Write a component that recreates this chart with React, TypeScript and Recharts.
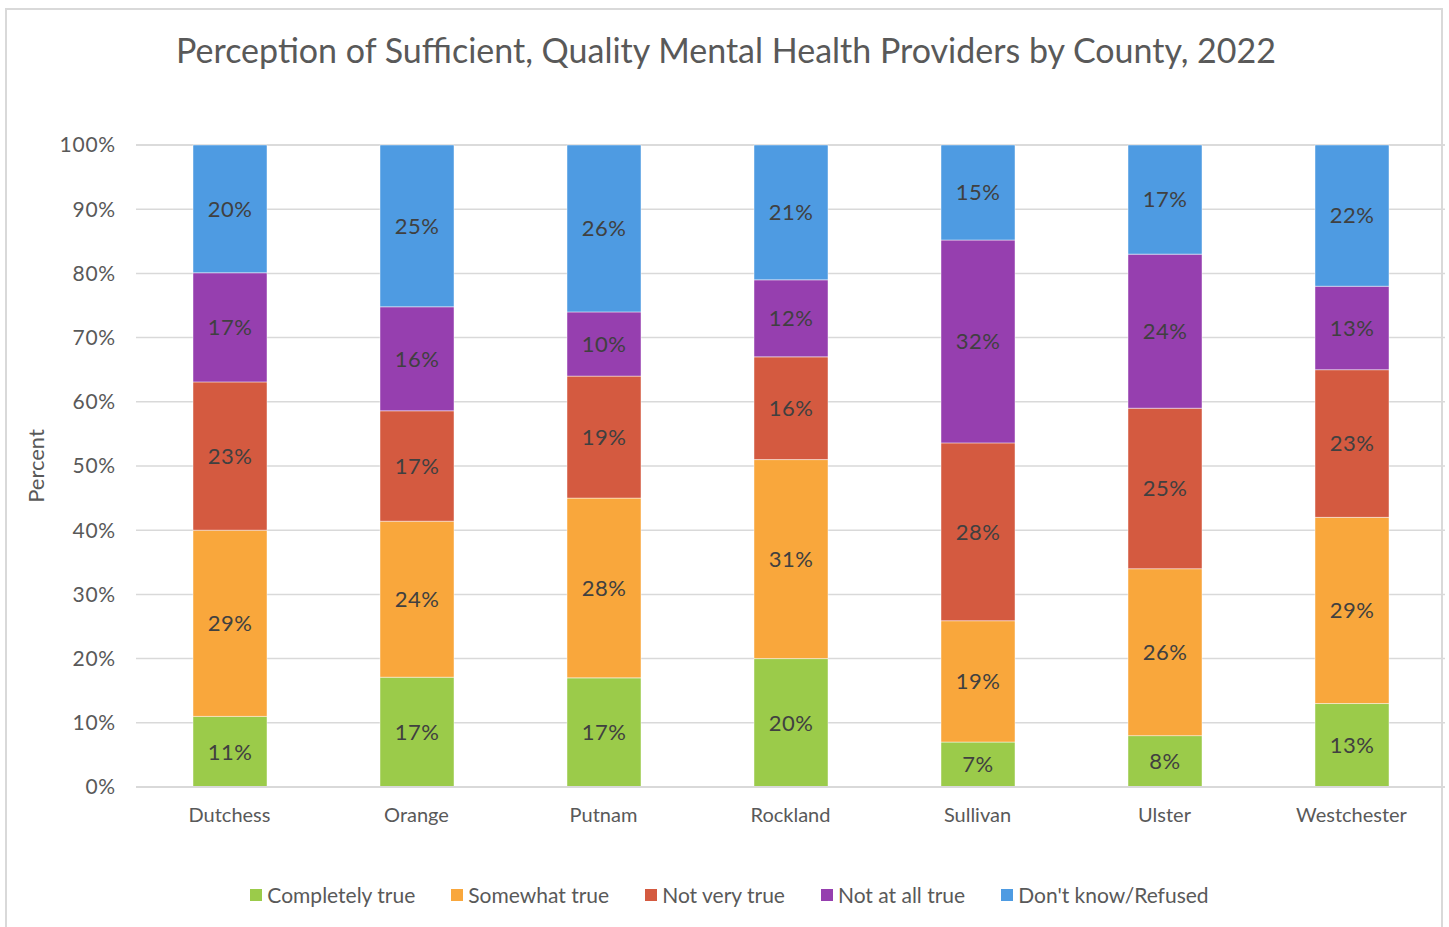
import React from 'react';
import { BarChart, Bar, XAxis, YAxis, CartesianGrid, Legend, LabelList } from 'recharts';

const counties = ['Dutchess', 'Orange', 'Putnam', 'Rockland', 'Sullivan', 'Ulster', 'Westchester'];
const completelyTrue = [11, 17.1, 17, 20, 7, 8, 13];
const somewhatTrue = [29, 24.3, 28, 31, 18.9, 26, 29];
const notVeryTrue = [23.1, 17.2, 19, 16, 27.7, 25, 23];
const notAtAllTrue = [17, 16.2, 10, 12, 31.6, 24, 13];
const dontKnow = [19.9, 25.2, 26, 21, 14.8, 17, 22];
const yTicks = [0, 10, 20, 30, 40, 50, 60, 70, 80, 90, 100];

const series = [
  { key: 'completely', name: 'Completely true', values: completelyTrue, color: '#9BCB4A' },
  { key: 'somewhat', name: 'Somewhat true', values: somewhatTrue, color: '#F9A73C' },
  { key: 'notvery', name: 'Not very true', values: notVeryTrue, color: '#D45A40' },
  { key: 'notatall', name: 'Not at all true', values: notAtAllTrue, color: '#963FAF' },
  { key: 'dontknow', name: "Don't know/Refused", values: dontKnow, color: '#4E9BE2' },
];

const data = counties.map((c, i) => {
  const row: Record<string, string | number> = { county: c };
  series.forEach((s) => {
    row[s.key] = s.values[i];
  });
  return row;
});

const FONT = 'Lato, "Open Sans", sans-serif';

const LegendContent = (props: any) => {
  const byName: Record<string, any> = {};
  (props.payload || []).forEach((p: any) => {
    byName[p.value] = p;
  });
  const items = series.map((s) => ({ value: s.name, color: (byName[s.name] && byName[s.name].color) || s.color }));
  return (
    <div style={{ display: 'flex', justifyContent: 'center', gap: 36, fontFamily: FONT, fontSize: 21, color: '#595959', lineHeight: '24px', paddingLeft: 10 }}>
      {items.map((p) => (
        <div key={p.value} style={{ display: 'flex', alignItems: 'center' }}>
          <span style={{ display: 'inline-block', width: 12, height: 12, background: p.color, marginRight: 5 }} />
          <span>{p.value}</span>
        </div>
      ))}
    </div>
  );
};

export default function App() {
  return (
    <div style={{ position: 'absolute', left: 0, top: 0, width: 1449, height: 927, background: '#fff', overflow: 'hidden', fontFamily: FONT }}>
      <div style={{ position: 'absolute', left: 5, top: 8, width: 1438, height: 940, border: '2px solid #D9D9D9', boxSizing: 'border-box' }} />
      <div style={{ position: 'absolute', left: 0, top: 27, width: 1452, textAlign: 'center', fontSize: 34, color: '#595959', lineHeight: '46px', whiteSpace: 'nowrap' }}>
        Perception of Sufficient, Quality Mental Health Providers by County, 2022
      </div>
      <div style={{ position: 'absolute', left: 0, top: 0 }}>
        <BarChart width={1449} height={927} data={data} margin={{ top: 145, right: 4, bottom: 110, left: 56 }}>
          <CartesianGrid vertical={false} stroke="#D9D9D9" strokeWidth={1.5} />
          <XAxis
            dataKey="county"
            height={30}
            tickLine={false}
            tickSize={6}
            tickMargin={15}
            axisLine={{ stroke: '#D9D9D9', strokeWidth: 2 }}
            tick={{ fill: '#595959', fontSize: 20, fontFamily: FONT }}
            interval={0}
          />
          <YAxis
            width={80}
            domain={[0, 100]}
            ticks={yTicks}
            tickFormatter={(v: number) => `${v}%`}
            axisLine={false}
            tickLine={false}
            tickSize={6}
            tickMargin={14}
            tick={{ fill: '#595959', fontSize: 21, fontFamily: FONT, letterSpacing: 0.8 }}
            label={{
              content: (p: any) => {
                const vb = p.viewBox || {};
                const cy = (vb.y ?? 145) + (vb.height ?? 642) / 2;
                return (
                  <text x={35} y={cy} transform={`rotate(-90, 35, ${cy})`} textAnchor="middle" dominantBaseline="central" fill="#595959" fontSize={22} fontFamily={FONT}>
                    Percent
                  </text>
                );
              },
            }}
          />
          <Legend
            layout="horizontal"
            verticalAlign="middle"
            align="center"
            wrapperStyle={{ top: 883, left: 0, width: 1449 }}
            content={<LegendContent />}
          />
          {series.map((s) => (
            <Bar
              key={s.key}
              dataKey={s.key}
              name={s.name}
              stackId="a"
              fill={s.color}
              barSize={74}
              stroke="#ffffff"
              strokeOpacity={0.45}
              strokeWidth={1}
              isAnimationActive={false}
            >
              <LabelList
                dataKey={s.key}
                position="center"
                formatter={(v: any) => `${Math.round(Number(v))}%`}
                fill="#404040"
                fontSize={22}
                fontFamily={FONT}
                letterSpacing={0.5}
              />
            </Bar>
          ))}
        </BarChart>
      </div>
    </div>
  );
}
